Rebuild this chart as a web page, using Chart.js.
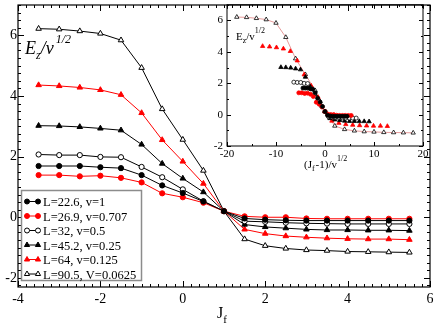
<!DOCTYPE html>
<html><head><meta charset="utf-8">
<script src="https://cdn.jsdelivr.net/npm/chart.js@4/dist/chart.umd.min.js"></script>
<style>
html,body{margin:0;padding:0;background:#fff;}
#wrap{position:relative;width:436px;height:328px;overflow:hidden;}
#main{position:absolute;left:0;top:0;}
#inset{position:absolute;left:205px;top:0;}
</style></head><body>
<div id="wrap"><canvas id="main" width="436" height="328"></canvas><canvas id="inset" width="230" height="180"></canvas></div>
<script>
// ---- data ----
const jf = [-3.5,-3,-2.5,-2,-1.5,-1,-0.5,0,0.5,1,1.5,2,2.5,3,3.5,4,4.5,5,5.5];
const seriesLabels = ["L=22.6, v=1","L=26.9, v=0.707","L=32, v=0.5","L=45.2, v=0.25","L=64, v=0.125","L=90.5, V=0.0625"];
const s1 = [1.69,1.69,1.69,1.65,1.62,1.39,1.05,0.80,0.52,0.20,-0.04,-0.08,-0.10,-0.11,-0.11,-0.11,-0.11,-0.11,-0.11];
const s2 = [1.39,1.39,1.35,1.37,1.30,1.15,0.79,0.66,0.48,0.20,0.03,0.00,0.00,-0.04,-0.05,-0.05,-0.05,-0.05,-0.05];
const s3 = [2.07,2.05,2.05,1.99,1.98,1.66,1.32,0.92,0.53,0.20,-0.13,-0.15,-0.18,-0.20,-0.21,-0.22,-0.22,-0.22,-0.22];
const s4 = [3.02,3.01,2.98,2.93,2.87,2.40,1.77,1.28,0.83,0.20,-0.24,-0.32,-0.36,-0.40,-0.42,-0.42,-0.43,-0.43,-0.44];
const s5 = [4.36,4.33,4.28,4.20,4.04,3.44,2.55,1.84,1.11,0.20,-0.40,-0.54,-0.62,-0.66,-0.69,-0.71,-0.72,-0.72,-0.74];
const s6 = [6.22,6.20,6.14,6.06,5.84,4.93,3.57,2.56,1.54,0.20,-0.72,-0.94,-1.03,-1.08,-1.10,-1.13,-1.14,-1.15,-1.16];
// inset abscissa (Jf-1)/v^(1/2) for each series
const ix1 = [-4.5,-4,-3.5,-3,-2.5,-2,-1.5,-1,-0.5,0,0.5,1,1.5,2,2.5,3,3.5,4,4.5];
const ix2 = [-5.35,-4.76,-4.16,-3.57,-2.97,-2.38,-1.78,-1.19,-0.59,0,0.59,1.19,1.78,2.38,2.97,3.57,4.16,4.76,5.35];
const ix3 = [-6.36,-5.66,-4.95,-4.24,-3.54,-2.83,-2.12,-1.41,-0.71,0,0.71,1.41,2.12,2.83,3.54,4.24,4.95,5.66,6.36];
const ix4 = [-9,-8,-7,-6,-5,-4,-3,-2,-1,0,1,2,3,4,5,6,7,8,9];
const ix5 = [-12.73,-11.31,-9.9,-8.49,-7.07,-5.66,-4.24,-2.83,-1.41,0,1.41,2.83,4.24,5.66,7.07,8.49,9.9,11.31,12.73];
const ix6 = [-18,-16,-14,-12,-10,-8,-6,-4,-2,0,2,4,6,8,10,12,14,16,18];
const mainXTicks = [-4,-2,0,2,4,6];
const mainYTicks = [-2,0,2,4,6];
const insetXTicks = [-20,-10,0,10,20];
const insetYTicks = [-2,0,2,4,6];

// ---- styles ----
const styles = [
  {line:'#000', fill:'#000', stroke:'#000', shape:'circle'},
  {line:'#ff0000', fill:'#ff0000', stroke:'#ff0000', shape:'circle'},
  {line:'#000', fill:'#fff', stroke:'#000', shape:'circle'},
  {line:'#000', fill:'#000', stroke:'#000', shape:'triangle'},
  {line:'#ff0000', fill:'#ff0000', stroke:'#ff0000', shape:'triangle'},
  {line:'#000', fill:'#fff', stroke:'#000', shape:'triangle'}
];
const ys = [s1,s2,s3,s4,s5,s6];
const ixs = [ix1,ix2,ix3,ix4,ix5,ix6];
const SERIF = "'Liberation Serif', 'DejaVu Serif', serif";

function pts(xs, yv){ return xs.map((x,i)=>({x:x, y:yv[i]})); }

const frameTicks = {
  id:'frameTicks',
  afterDraw(chart, args, o){
    const {ctx, chartArea:a, scales:{x,y}} = chart;
    ctx.save();
    ctx.strokeStyle='#000'; ctx.lineWidth=1;
    ctx.beginPath();
    let n = Math.round((o.xmax-o.xmin)/o.xMinor);
    for(let i=0;i<=n;i++){
      const v = o.xmin + i*o.xMinor;
      const r = v/o.xMajor;
      const L = Math.abs(r-Math.round(r))<1e-6 ? o.major : o.minor;
      const px = Math.round(x.getPixelForValue(v))+0.5;
      ctx.moveTo(px,a.bottom); ctx.lineTo(px,a.bottom-L);
      ctx.moveTo(px,a.top); ctx.lineTo(px,a.top+L);
    }
    const ystart = Math.ceil(o.ymin/o.yMinor-1e-9)*o.yMinor;
    n = Math.floor((o.ymax-ystart)/o.yMinor+1e-9);
    for(let i=0;i<=n;i++){
      const v = ystart + i*o.yMinor;
      const r = v/o.yMajor;
      const L = Math.abs(r-Math.round(r))<1e-6 ? o.major : o.minor;
      const py = Math.round(y.getPixelForValue(v))+0.5;
      ctx.moveTo(a.left,py); ctx.lineTo(a.left+L,py);
      ctx.moveTo(a.right,py); ctx.lineTo(a.right-L,py);
    }
    ctx.stroke();
    ctx.lineWidth = o.border;
    ctx.strokeRect(a.left,a.top,a.right-a.left,a.bottom-a.top);
    ctx.restore();
  }
};

function richText(ctx, x, y, segs){
  let cx = x;
  for(const s of segs){
    ctx.font = s.f;
    ctx.fillText(s.t, cx, y + (s.dy||0));
    cx += ctx.measureText(s.t).width + (s.gap||0);
  }
}

const mainDecor = {
  id:'mainDecor',
  afterDraw(chart){
    const ctx = chart.ctx;
    ctx.save();
    ctx.fillStyle = '#000';
    ctx.textBaseline = 'alphabetic';
    ctx.textAlign = 'left';
    // y title
    richText(ctx, 25, 54, [
      {t:'E', f:'italic 18px '+SERIF},
      {t:'z', f:'italic 12px '+SERIF, dy:5},
      {t:'/v', f:'italic 18px '+SERIF, gap:2},
      {t:'1/2', f:'italic 12px '+SERIF, dy:-11}
    ]);
    // x title
    richText(ctx, 217, 318, [
      {t:'J', f:'16px '+SERIF},
      {t:'f', f:'11px '+SERIF, dy:5}
    ]);
    // legend
    const bx=21.5, by=190.5, bw=120, bh=90;
    ctx.fillStyle='#fff';
    ctx.fillRect(bx,by,bw,bh);
    ctx.strokeStyle='#8c8c8c'; ctx.lineWidth=1.5;
    ctx.strokeRect(bx,by,bw,bh);
    for(let i=0;i<seriesLabels.length;i++){
      const st = styles[i];
      const cy = 201.5 + i*14.5;
      ctx.strokeStyle = st.line; ctx.lineWidth=1;
      ctx.beginPath(); ctx.moveTo(27,cy); ctx.lineTo(38,cy); ctx.stroke();
      for(const mx of [27,38]){
        ctx.fillStyle = st.fill; ctx.strokeStyle = st.stroke;
        Chart.helpers.drawPoint(ctx, {pointStyle:st.shape, radius: st.shape==='circle'?2.5:3, rotation:0, borderWidth:1}, mx, cy);
      }
      ctx.fillStyle='#000';
      ctx.font = '12.5px '+SERIF;
      ctx.fillText(seriesLabels[i], 43, cy+4.5);
    }
    ctx.restore();
  }
};

const insetDecor = {
  id:'insetDecor',
  afterDraw(chart){
    const ctx = chart.ctx;
    ctx.save();
    ctx.fillStyle='#000';
    ctx.textAlign='left'; ctx.textBaseline='alphabetic';
    richText(ctx, 31, 40, [
      {t:'E', f:'11px '+SERIF},
      {t:'z', f:'8px '+SERIF, dy:3},
      {t:'/v', f:'11px '+SERIF},
      {t:'1/2', f:'8px '+SERIF, dy:-7}
    ]);
    richText(ctx, 99, 168, [
      {t:'(J', f:'11px '+SERIF},
      {t:'f', f:'8px '+SERIF, dy:3, gap:1},
      {t:'-1)/v', f:'11px '+SERIF},
      {t:'1/2', f:'8px '+SERIF, dy:-7}
    ]);
    ctx.restore();
  }
};

function fitX(h){ return function(s){ s.height = h; s.paddingLeft = 0; s.paddingRight = 0; }; }
function fitY(w){ return function(s){ s.width = w; s.paddingTop = 0; s.paddingBottom = 0; }; }

const mainDatasets = ys.map((yv,i)=>({
  label: seriesLabels[i],
  data: pts(jf, yv),
  borderColor: styles[i].line,
  backgroundColor: styles[i].fill,
  pointBackgroundColor: styles[i].fill,
  pointBorderColor: styles[i].stroke,
  pointStyle: styles[i].shape,
  pointRadius: styles[i].shape==='circle'?2.6:3.2,
  pointBorderWidth: 1,
  borderWidth: 1,
  tension: 0
}));

new Chart(document.getElementById('main'), {
  type:'line',
  data:{datasets: mainDatasets},
  options:{
    responsive:false, animation:false, events:[],
    layout:{padding:{top:2,right:6,left:0,bottom:0}},
    plugins:{legend:{display:false}, tooltip:{enabled:false},
      frameTicks:{xmin:-4,xmax:6,xMinor:0.2,xMajor:2,ymin:-2.3,ymax:7,yMinor:0.25,yMajor:2,major:6,minor:3,border:1.2}},
    scales:{
      x:{type:'linear', min:-4, max:6,
         afterFit: fitX(41),
         afterBuildTicks(s){ s.ticks = mainXTicks.map(v=>({value:v})); },
         grid:{display:false, drawTicks:false}, border:{display:false},
         ticks:{padding:4, color:'#000', font:{family:SERIF,size:14}, maxRotation:0}},
      y:{type:'linear', min:-2.3, max:7,
         afterFit: fitY(18),
         afterBuildTicks(s){ s.ticks = mainYTicks.map(v=>({value:v})); },
         grid:{display:false, drawTicks:false}, border:{display:false},
         ticks:{padding:1, color:'#000', font:{family:SERIF,size:14}}}
    }
  },
  plugins:[frameTicks, mainDecor]
});

const insetDatasets = ys.map((yv,i)=>({
  label: seriesLabels[i],
  data: pts(ixs[i], yv),
  showLine: i===5,
  borderColor: i===5 ? '#e79a9a' : styles[i].line,
  backgroundColor: styles[i].fill,
  pointBackgroundColor: styles[i].fill,
  pointBorderColor: styles[i].stroke,
  pointStyle: styles[i].shape,
  pointRadius: styles[i].shape==='circle'?2:2.5,
  pointBorderWidth: 0.8,
  borderWidth: 1,
  tension: 0
}));

new Chart(document.getElementById('inset'), {
  type:'line',
  data:{datasets: insetDatasets},
  options:{
    responsive:false, animation:false, events:[],
    layout:{padding:{top:3,right:12,left:0,bottom:0}},
    plugins:{legend:{display:false}, tooltip:{enabled:false},
      frameTicks:{xmin:-20,xmax:20,xMinor:5,xMajor:10,ymin:-2,ymax:7,yMinor:1,yMajor:2,major:4,minor:2,border:1}},
    scales:{
      x:{type:'linear', min:-20, max:20,
         afterFit: fitX(34),
         afterBuildTicks(s){ s.ticks = insetXTicks.map(v=>({value:v})); },
         grid:{display:false, drawTicks:false}, border:{display:false},
         ticks:{padding:2, color:'#000', font:{family:SERIF,size:11}, maxRotation:0}},
      y:{type:'linear', min:-2, max:7,
         afterFit: fitY(22),
         afterBuildTicks(s){ s.ticks = insetYTicks.map(v=>({value:v})); },
         grid:{display:false, drawTicks:false}, border:{display:false},
         ticks:{padding:4, color:'#000', font:{family:SERIF,size:11}}}
    }
  },
  plugins:[frameTicks, insetDecor]
});
</script>
</body></html>
